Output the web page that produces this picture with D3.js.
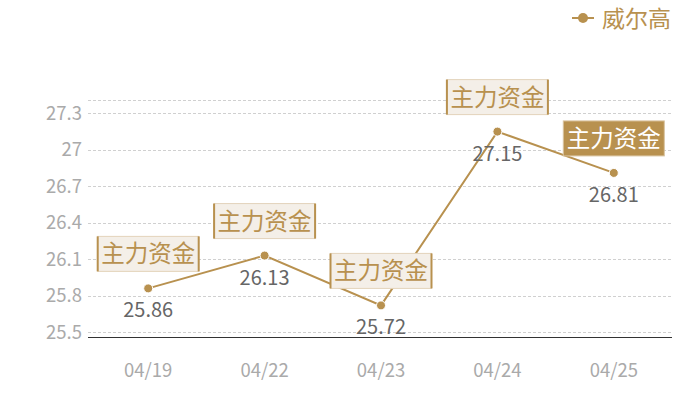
<!DOCTYPE html>
<html>
<head>
<meta charset="utf-8">
<script src="https://cdn.jsdelivr.net/npm/d3@7"></script>
<style>
  body { margin: 0; background: #fff; }
  svg { display: block; font-family: "Noto Sans CJK SC", "Noto Sans", sans-serif; }
</style>
</head>
<body>
<div id="chart"></div>
<script>
var dates = ['04/19', '04/22', '04/23', '04/24', '04/25'];
var prices = [25.86, 26.13, 25.72, 27.15, 26.81];
var yTicks = [25.5, 25.8, 26.1, 26.4, 26.7, 27, 27.3];
var seriesName = '威尔高';
var tagText = '主力资金';

var width = 700, height = 400;
var gold = '#b8914f';

var svg = d3.select('#chart')
  .append('svg')
  .attr('width', width)
  .attr('height', height);

var x = d3.scaleBand()
  .domain(dates)
  .range([90, 672]);

var y = d3.scaleLinear()
  .domain([25.46, 27.41])
  .range([337, 100]);

// grid lines
svg.append('g')
  .selectAll('line')
  .data(yTicks.concat([27.41]))
  .join('line')
  .attr('x1', 88)
  .attr('x2', 672)
  .attr('y1', d => Math.round(y(d)) + 0.5)
  .attr('y2', d => Math.round(y(d)) + 0.5)
  .attr('stroke', '#d0d0d0')
  .attr('stroke-dasharray', '3,2');

// y axis labels
var yAxis = d3.axisLeft(y).tickValues(yTicks).tickSize(0).tickPadding(0).tickFormat(d3.format(''));
svg.append('g')
  .attr('transform', 'translate(82,0)')
  .call(yAxis)
  .call(g => g.select('.domain').remove())
  .selectAll('text')
  .attr('fill', '#aaa')
  .attr('font-size', 18.5)
  .attr('font-family', '"Noto Sans CJK SC", sans-serif');

// x axis
var xAxis = d3.axisBottom(x).tickSize(0).tickPadding(26);
svg.append('g')
  .attr('transform', 'translate(0,337.5)')
  .call(xAxis)
  .call(g => g.select('.domain').attr('d', 'M88,0H672').attr('stroke', '#333').attr('stroke-width', 1.2))
  .selectAll('text')
  .attr('fill', '#aaa')
  .attr('font-size', 18.5)
  .attr('font-family', '"Noto Sans CJK SC", sans-serif');

var cx = d => x(d) + x.bandwidth() / 2;

// line
var line = d3.line()
  .x((d, i) => cx(dates[i]))
  .y(d => y(d));

svg.append('path')
  .datum(prices)
  .attr('d', line)
  .attr('fill', 'none')
  .attr('stroke', gold)
  .attr('stroke-width', 2);

svg.append('g')
  .selectAll('circle')
  .data(prices)
  .join('circle')
  .attr('cx', (d, i) => cx(dates[i]))
  .attr('cy', d => y(d))
  .attr('r', 4.5)
  .attr('fill', gold)
  .attr('stroke', '#fff')
  .attr('stroke-width', 1);

// value labels
svg.append('g')
  .selectAll('text')
  .data(prices)
  .join('text')
  .attr('x', (d, i) => cx(dates[i]))
  .attr('y', d => y(d) + 29)
  .attr('text-anchor', 'middle')
  .attr('fill', '#666')
  .attr('font-size', 20)
  .text(d => d3.format('.2f')(d));

// tags
var tagW = 101, tagH = 35;
var tags = svg.append('g')
  .selectAll('g')
  .data(prices)
  .join('g')
  .attr('transform', (d, i) => 'translate(' + (cx(dates[i]) - tagW / 2) + ',' + (y(d) - 17 - tagH) + ')');

tags.append('rect')
  .attr('width', tagW)
  .attr('height', tagH)
  .attr('fill', (d, i) => i == prices.length - 1 ? gold : '#f4efe8')
  .attr('stroke', (d, i) => i == prices.length - 1 ? '#d9c39f' : '#e3d3bb')
  .attr('stroke-width', 1);

tags.filter((d, i) => i < prices.length - 1)
  .selectAll('line')
  .data([0, tagW])
  .join('line')
  .attr('x1', d => d)
  .attr('x2', d => d)
  .attr('y1', 0)
  .attr('y2', tagH)
  .attr('stroke', gold)
  .attr('stroke-width', 2);

tags.append('text')
  .attr('x', tagW / 2)
  .attr('y', tagH / 2 + 8.5)
  .attr('text-anchor', 'middle')
  .attr('font-size', 23.5)
  .attr('fill', (d, i) => i == prices.length - 1 ? '#fff' : gold)
  .text(tagText);

// legend
var legend = svg.append('g').attr('transform', 'translate(572,18)');
legend.append('line')
  .attr('x1', 0).attr('x2', 22)
  .attr('stroke', gold).attr('stroke-width', 2);
legend.append('circle')
  .attr('cx', 11).attr('r', 5)
  .attr('fill', gold);
legend.append('text')
  .attr('x', 30)
  .attr('y', 8.5)
  .attr('font-size', 23)
  .attr('fill', gold)
  .text(seriesName);
</script>
</body>
</html>
